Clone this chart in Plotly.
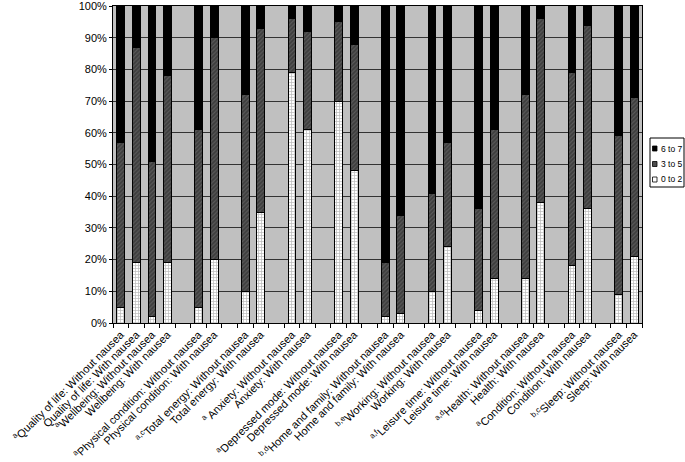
import plotly.graph_objects as go

topics = ["Quality of life", "Wellbeing", "Physical condition", "Total energy", "Anxiety",
          "Depressed mode", "Home and family", "Working", "Leisure time", "Health",
          "Condition", "Sleep"]
notes = ["a", "a", "a", "a,c", "a ", "a", "b,d", "b,e", "a,f", "a,d", "a", "b,c"]

series_names = ["0 to 2", "3 to 5", "6 to 7"]
# percentages per bar (Without nausea, With nausea for each topic)
low_0_2 = [5, 19, 2, 19, 5, 20, 10, 35, 79, 61, 70, 48, 2, 3, 10, 24, 4, 14, 14, 38, 18, 36, 9, 21]
mid_3_5 = [52, 68, 49, 59, 56, 70, 62, 58, 17, 31, 25, 40, 17, 31, 31, 33, 32, 47, 58, 58, 61, 58, 50, 50]
high_6_7 = [43, 13, 49, 22, 39, 10, 28, 7, 4, 8, 5, 12, 81, 66, 59, 43, 64, 39, 28, 4, 21, 6, 41, 29]

# build category axis (blank slot between groups, as in the original layout)
cats, y0, y1, y2 = [], [], [], []
blank = 0
for i, (t, n) in enumerate(zip(topics, notes)):
    if i >= 2:
        blank += 1
        cats.append(" " * blank)
        y0.append(None); y1.append(None); y2.append(None)
    for j, cond in enumerate(["Without nausea", "With nausea"]):
        lab = (f"<sup>{n}</sup>" if j == 0 else "") + f"{t}: {cond}"
        cats.append(lab)
        k = 2 * i + j
        y0.append(low_0_2[k]); y1.append(mid_3_5[k]); y2.append(high_6_7[k])

styles = [
    dict(color="white", line=dict(color="black", width=1),
         pattern=dict(shape="+", size=3, solidity=0.4, fgcolor="#707070", bgcolor="white")),
    dict(color="#4c4c4c", line=dict(color="black", width=1),
         pattern=dict(shape="/", size=3, solidity=0.35, fgcolor="#7a7a7a", bgcolor="#3e3e3e")),
    dict(color="black", line=dict(color="black", width=1)),
]

fig = go.Figure()
for name, ys, st in zip(series_names, [y0, y1, y2], styles):
    fig.add_trace(go.Bar(x=cats, y=ys, name=name, marker=st, showlegend=False))

W, H = 685, 462
L, R, T, B = 113, 43, 6, 139
pw, ph = W - L - R, H - T - B

def px(xp):
    return (xp - L) / pw

def py(yp):
    return (H - B - yp) / ph

# compact legend box (drawn in paper coordinates on the right)
shapes = [dict(type="rect", xref="paper", yref="paper",
               x0=px(650), x1=px(684), y0=py(187), y1=py(138),
               line=dict(color="black", width=1), fillcolor="white")]
annotations = []
fills = ["white", "#4c4c4c", "black"]
for idx, name in enumerate(reversed(series_names)):
    yc = 148.5 + idx * 15.5
    fill = list(reversed(fills))[idx]
    shapes.append(dict(type="rect", xref="paper", yref="paper",
                       x0=px(652.5), x1=px(657), y0=py(yc + 2.5), y1=py(yc - 2.5),
                       line=dict(color="black", width=0.8), fillcolor=fill))
    annotations.append(dict(xref="paper", yref="paper", x=px(658.5), y=py(yc),
                            text=name, showarrow=False, xanchor="left", yanchor="middle",
                            font=dict(size=8.5, color="black")))

fig.update_layout(
    width=W, height=H,
    barmode="stack", barnorm="percent", bargap=0.5,
    plot_bgcolor="#c0c0c0", paper_bgcolor="white",
    margin=dict(l=L, r=R, t=T, b=B),
    font=dict(family="Liberation Sans, Arial, sans-serif", size=11, color="black"),
    showlegend=False, shapes=shapes, annotations=annotations,
)
fig.update_xaxes(type="category", categoryorder="array", categoryarray=cats,
                 range=[-0.5, len(cats) - 0.5], tickangle=-45, automargin=False,
                 tickson="boundaries", ticks="outside", ticklen=4, tickcolor="black",
                 showline=True, linecolor="black", linewidth=1, mirror=True,
                 showgrid=False, tickfont=dict(size=11, color="black"))
fig.update_yaxes(range=[0, 100], dtick=10, ticksuffix="%", automargin=False,
                 ticklabeloverflow="allow",
                 ticks="outside", ticklen=3, tickcolor="black",
                 showline=True, linecolor="black", linewidth=1, mirror=True,
                 showgrid=True, gridcolor="#333333", gridwidth=1,
                 tickfont=dict(size=11, color="black"), zeroline=False)

fig.write_html("out.html", config={"displayModeBar": False},
               post_script="document.body.style.margin='0px';document.body.style.overflow='hidden';")
